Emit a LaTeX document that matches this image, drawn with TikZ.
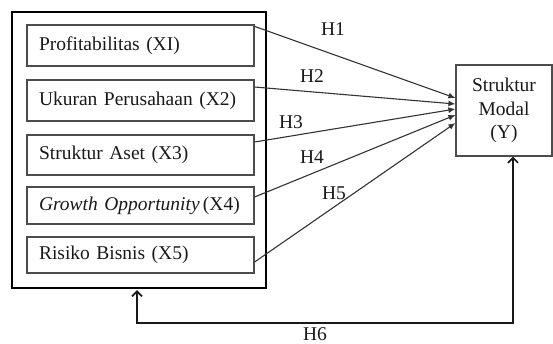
\documentclass[tikz,border=0pt]{standalone}
\usepackage{fontspec}
\setmainfont{Liberation Serif}
\usetikzlibrary{arrows.meta}
\begin{document}
\begin{tikzpicture}[x=1pt,y=-1pt,
  every node/.style={font=\fontsize{19.5}{23.5}\selectfont, text=black!90},
  varbox/.style={draw=black!70, line width=1.2pt, minimum width=227pt, text width=203pt,
    inner xsep=12pt, inner ysep=0pt, align=left, anchor=center},
  outerbox/.style={draw=black, line width=2.2pt},
  ybox/.style={draw=black!70, line width=1.2pt, minimum width=96pt, minimum height=91pt,
    align=center, inner sep=0pt},
  hyp/.style={draw=black!80, line width=1.1pt, -{Latex[length=7pt,width=6pt]}},
  hsix/.style={draw=black!90, line width=1.7pt, {Straight Barb[length=5pt,width=10pt]}-{Straight Barb[length=5pt,width=10pt]}},
  hlabel/.style={inner sep=0pt, text depth=0pt, anchor=base}]
\useasboundingbox (0,0) rectangle (553,343);
% outer box
\node[outerbox, minimum width=254pt, minimum height=276pt, inner sep=0pt] (outer) at (139,150) {};
% variable boxes
\node[varbox, minimum height=41pt] (b1) at (140.5,45.5) {Profitabilitas (XI)};
\node[varbox, minimum height=41pt] (b2) at (140.5,100.5) {Ukuran Perusahaan (X2)};
\node[varbox, minimum height=40pt] (b3) at (140.5,155) {Struktur Aset (X3)};
\node[varbox, minimum height=37pt] (b4) at (140.5,205.5) {\textit{Growth Opportunity}\,(X4)};
\node[varbox, minimum height=36pt] (b5) at (140.5,255) {Risiko Bisnis (X5)};
% dependent variable
\node[ybox] (Y) at (504,110.5) {Struktur\\Modal\\(Y)};
% hypothesis arrows
\draw[hyp] ([yshift=-2pt]b1.north east) -- ([yshift=12.5pt]Y.west);
\draw[hyp] ([yshift=13.5pt]b2.east) -- ([yshift=6.5pt]Y.west);
\draw[hyp] ([yshift=13pt]b3.east) -- ([yshift=1.5pt]Y.west);
\draw[hyp] ([yshift=8.5pt]b4.east) -- ([yshift=-4.5pt]Y.west);
\draw[hyp] ([yshift=-7pt]b5.east) -- ([yshift=-12.5pt]Y.west);
% H6
\draw[hsix] ([xshift=-2pt,yshift=-1pt]outer.south) -- ++(0,33) -| ([xshift=9pt]Y.south);
% labels (baselines)
\node[hlabel] (h1) at (333,35) {H1};
\node[hlabel] (h2) at (312,82) {H2};
\node[hlabel] (h3) at (291,128) {H3};
\node[hlabel] (h4) at (312,163) {H4};
\node[hlabel] (h5) at (334,199) {H5};
\node[hlabel] (h6) at (315,340) {H6};
\end{tikzpicture}
\end{document}
